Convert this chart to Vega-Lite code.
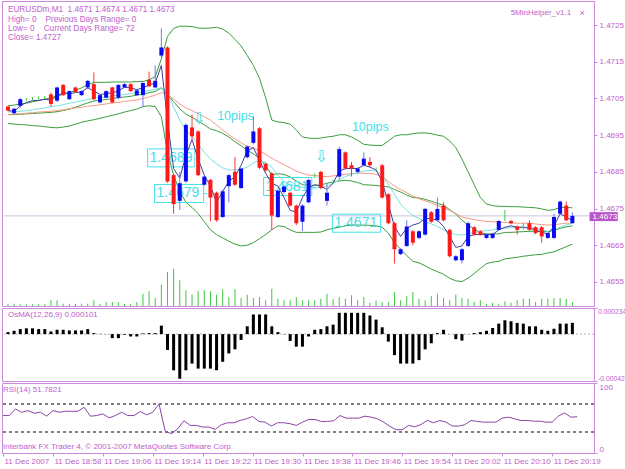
{
"$schema":"https://vega.github.io/schema/vega-lite/v6.json",
"background":"white",
"padding":{"left":0,"top":0,"right":0,"bottom":0},
"bounds":"flush",
"spacing":2,
"config":{
 "view":{"stroke":"#CC88DD","strokeWidth":1},
 "font":"Liberation Sans",
 "axis":{"labelFont":"Liberation Sans","labelFontSize":8,"labelColor":"#C060CC","tickColor":"#CC88DD","tickSize":3,"domain":false,"grid":false,"labelPadding":2,"labelOverlap":false}
},
"datasets":{
"bars":[
{"i":0,"o":1.47028,"h":1.4703,"l":1.47015,"c":1.47017,"ub":1.4703,"lb":1.46982,"mb":1.47006,"mr":1.47006,"mc":1.47013,"mn":1.47017,"v":7,"os":0.000018,"r":53.5},
{"i":1,"o":1.4701,"h":1.47024,"l":1.47006,"c":1.47022,"ub":1.47032,"lb":1.4698,"mb":1.47006,"mr":1.47008,"mc":1.47014,"mn":1.47015,"v":7,"os":0.00003,"r":53.5},
{"i":2,"o":1.4703,"h":1.47052,"l":1.47024,"c":1.47048,"ub":1.47035,"lb":1.46979,"mb":1.47007,"mr":1.47008,"mc":1.47015,"mn":1.4703,"v":5,"os":0.000045,"r":62.9},
{"i":3,"o":1.47048,"h":1.47052,"l":1.47044,"c":1.47048,"ub":1.47037,"lb":1.46978,"mb":1.47008,"mr":1.4701,"mc":1.47017,"mn":1.47039,"v":5,"os":0.000052,"r":58.2},
{"i":4,"o":1.4705,"h":1.47054,"l":1.47046,"c":1.4705,"ub":1.47041,"lb":1.46976,"mb":1.47009,"mr":1.47011,"mc":1.47019,"mn":1.47044,"v":5,"os":0.000052,"r":60.6},
{"i":5,"o":1.47052,"h":1.47056,"l":1.47048,"c":1.47052,"ub":1.47044,"lb":1.46975,"mb":1.4701,"mr":1.47013,"mc":1.47022,"mn":1.47045,"v":5,"os":0.000045,"r":56.8},
{"i":6,"o":1.47053,"h":1.47057,"l":1.47048,"c":1.47053,"ub":1.47048,"lb":1.46973,"mb":1.47011,"mr":1.47014,"mc":1.47024,"mn":1.47048,"v":5,"os":0.000045,"r":58.2},
{"i":7,"o":1.47061,"h":1.47066,"l":1.47028,"c":1.47035,"ub":1.47052,"lb":1.46971,"mb":1.47012,"mr":1.47015,"mc":1.47028,"mn":1.47045,"v":17,"os":0.000024,"r":52.6},
{"i":8,"o":1.47044,"h":1.47082,"l":1.4704,"c":1.4708,"ub":1.47057,"lb":1.4697,"mb":1.47014,"mr":1.47017,"mc":1.4703,"mn":1.47057,"v":17,"os":0.000039,"r":60.6},
{"i":9,"o":1.47087,"h":1.47089,"l":1.47057,"c":1.47059,"ub":1.47061,"lb":1.46972,"mb":1.47017,"mr":1.47019,"mc":1.47033,"mn":1.47066,"v":7,"os":0.000039,"r":58.2},
{"i":10,"o":1.47048,"h":1.47072,"l":1.47046,"c":1.4707,"ub":1.47066,"lb":1.46975,"mb":1.47021,"mr":1.47022,"mc":1.47037,"mn":1.47063,"v":7,"os":0.000033,"r":59.6},
{"i":11,"o":1.4708,"h":1.47082,"l":1.47065,"c":1.47067,"ub":1.47072,"lb":1.4698,"mb":1.47026,"mr":1.47024,"mc":1.4704,"mn":1.47066,"v":7,"os":0.000033,"r":59.6},
{"i":12,"o":1.47059,"h":1.47072,"l":1.47057,"c":1.4707,"ub":1.47079,"lb":1.46985,"mb":1.47032,"mr":1.47026,"mc":1.47044,"mn":1.47068,"v":7,"os":0.000033,"r":59.6},
{"i":13,"o":1.4708,"h":1.47101,"l":1.47076,"c":1.47098,"ub":1.47087,"lb":1.46989,"mb":1.47038,"mr":1.47029,"mc":1.47047,"mn":1.47079,"v":7,"os":0.000045,"r":65.3},
{"i":14,"o":1.47089,"h":1.47121,"l":1.47046,"c":1.47048,"ub":1.47094,"lb":1.46992,"mb":1.47043,"mr":1.4703,"mc":1.47051,"mn":1.4707,"v":17,"os":0.000009,"r":52.6},
{"i":15,"o":1.47039,"h":1.47061,"l":1.47037,"c":1.47059,"ub":1.47094,"lb":1.46996,"mb":1.47045,"mr":1.47033,"mc":1.47052,"mn":1.47061,"v":7,"os":0.000002,"r":53.5},
{"i":16,"o":1.47052,"h":1.47072,"l":1.4705,"c":1.4707,"ub":1.47094,"lb":1.47,"mb":1.47047,"mr":1.47035,"mc":1.47054,"mn":1.47063,"v":12,"os":0.000001,"r":55.9},
{"i":17,"o":1.4708,"h":1.47082,"l":1.47037,"c":1.47039,"ub":1.47095,"lb":1.47004,"mb":1.4705,"mr":1.47038,"mc":1.47057,"mn":1.47066,"v":12,"os":-0.000036,"r":50.2},
{"i":18,"o":1.47052,"h":1.47089,"l":1.47048,"c":1.47087,"ub":1.47095,"lb":1.47008,"mb":1.47052,"mr":1.47039,"mc":1.47059,"mn":1.4707,"v":12,"os":-0.000036,"r":53.5},
{"i":19,"o":1.4708,"h":1.47092,"l":1.47078,"c":1.47089,"ub":1.47095,"lb":1.47013,"mb":1.47054,"mr":1.47042,"mc":1.47061,"mn":1.47081,"v":7,"os":-0.000006,"r":58.2},
{"i":20,"o":1.47089,"h":1.47092,"l":1.47068,"c":1.4707,"ub":1.47095,"lb":1.47017,"mb":1.47056,"mr":1.47044,"mc":1.47063,"mn":1.47079,"v":7,"os":-0.000021,"r":53.5},
{"i":21,"o":1.47059,"h":1.47074,"l":1.47057,"c":1.47072,"ub":1.47096,"lb":1.47021,"mb":1.47059,"mr":1.47046,"mc":1.47066,"mn":1.47074,"v":12,"os":-0.000021,"r":53.5},
{"i":22,"o":1.47059,"h":1.47094,"l":1.47028,"c":1.47092,"ub":1.47096,"lb":1.47028,"mb":1.47062,"mr":1.4705,"mc":1.47068,"mn":1.47079,"v":37,"os":0.000006,"r":59.2},
{"i":23,"o":1.47101,"h":1.47123,"l":1.47081,"c":1.47083,"ub":1.47101,"lb":1.4703,"mb":1.47066,"mr":1.47054,"mc":1.47072,"mn":1.47087,"v":44,"os":0.000009,"r":54.5},
{"i":24,"o":1.4708,"h":1.4714,"l":1.47078,"c":1.47098,"ub":1.47109,"lb":1.47028,"mb":1.47069,"mr":1.47059,"mc":1.47075,"mn":1.47092,"v":24,"os":0.000009,"r":58.2},
{"i":25,"o":1.47167,"h":1.47241,"l":1.4716,"c":1.47189,"ub":1.47158,"lb":1.47,"mb":1.47079,"mr":1.47066,"mc":1.47079,"mn":1.4714,"v":64,"os":0.000076,"r":70},
{"i":26,"o":1.47189,"h":1.47192,"l":1.4682,"c":1.46824,"ub":1.47219,"lb":1.46903,"mb":1.47061,"mr":1.47061,"mc":1.47066,"mn":1.46991,"v":102,"os":-0.000142,"r":30.9},
{"i":27,"o":1.46841,"h":1.46845,"l":1.46736,"c":1.46762,"ub":1.47241,"lb":1.46841,"mb":1.47041,"mr":1.47048,"mc":1.47026,"mn":1.46859,"v":112,"os":-0.000324,"r":27.6},
{"i":28,"o":1.46771,"h":1.4685,"l":1.46746,"c":1.46819,"ub":1.47247,"lb":1.46797,"mb":1.47022,"mr":1.47035,"mc":1.46991,"mn":1.46833,"v":77,"os":-0.0004,"r":34.7},
{"i":29,"o":1.46824,"h":1.46982,"l":1.4682,"c":1.46978,"ub":1.47247,"lb":1.46767,"mb":1.47007,"mr":1.47024,"mc":1.46964,"mn":1.46894,"v":47,"os":-0.000324,"r":46},
{"i":30,"o":1.46971,"h":1.47006,"l":1.46938,"c":1.46947,"ub":1.47246,"lb":1.46753,"mb":1.46999,"mr":1.47017,"mc":1.46947,"mn":1.46938,"v":34,"os":-0.000264,"r":39.4},
{"i":31,"o":1.4696,"h":1.46963,"l":1.46838,"c":1.46841,"ub":1.47242,"lb":1.46736,"mb":1.46989,"mr":1.47008,"mc":1.46925,"mn":1.46885,"v":44,"os":-0.000309,"r":39.4},
{"i":32,"o":1.46815,"h":1.4684,"l":1.46812,"c":1.46837,"ub":1.47241,"lb":1.46714,"mb":1.46978,"mr":1.47,"mc":1.46903,"mn":1.46841,"v":47,"os":-0.000309,"r":37.1},
{"i":33,"o":1.46828,"h":1.46831,"l":1.46715,"c":1.4678,"ub":1.47242,"lb":1.46692,"mb":1.46967,"mr":1.46991,"mc":1.46885,"mn":1.46811,"v":44,"os":-0.000309,"r":37.1},
{"i":34,"o":1.46793,"h":1.46796,"l":1.46714,"c":1.46718,"ub":1.47244,"lb":1.46679,"mb":1.46962,"mr":1.46978,"mc":1.46872,"mn":1.46767,"v":34,"os":-0.000324,"r":33.8},
{"i":35,"o":1.46727,"h":1.468,"l":1.46724,"c":1.46797,"ub":1.47239,"lb":1.4667,"mb":1.46955,"mr":1.46964,"mc":1.46861,"mn":1.46797,"v":50,"os":-0.000248,"r":40.4},
{"i":36,"o":1.46811,"h":1.46845,"l":1.46767,"c":1.46841,"ub":1.47228,"lb":1.46661,"mb":1.46945,"mr":1.46951,"mc":1.46855,"mn":1.46824,"v":27,"os":-0.000173,"r":43.2},
{"i":37,"o":1.4685,"h":1.4689,"l":1.46812,"c":1.46815,"ub":1.47211,"lb":1.46653,"mb":1.46932,"mr":1.4694,"mc":1.46855,"mn":1.46837,"v":50,"os":-0.000136,"r":43.2},
{"i":38,"o":1.46806,"h":1.46862,"l":1.46803,"c":1.46859,"ub":1.47193,"lb":1.46648,"mb":1.46921,"mr":1.46929,"mc":1.46857,"mn":1.46868,"v":24,"os":-0.000052,"r":46.5},
{"i":39,"o":1.4689,"h":1.46922,"l":1.46886,"c":1.46919,"ub":1.47167,"lb":1.4665,"mb":1.46909,"mr":1.4692,"mc":1.46863,"mn":1.46907,"v":34,"os":0.00007,"r":48.8},
{"i":40,"o":1.46929,"h":1.47001,"l":1.46925,"c":1.4696,"ub":1.4714,"lb":1.46657,"mb":1.46899,"mr":1.46916,"mc":1.46875,"mn":1.46916,"v":24,"os":0.000176,"r":52.1},
{"i":41,"o":1.46969,"h":1.46972,"l":1.46858,"c":1.46861,"ub":1.47105,"lb":1.46668,"mb":1.46887,"mr":1.46907,"mc":1.46881,"mn":1.46881,"v":27,"os":0.000176,"r":45.1},
{"i":42,"o":1.46872,"h":1.46875,"l":1.46851,"c":1.46854,"ub":1.47052,"lb":1.46679,"mb":1.46866,"mr":1.46898,"mc":1.46875,"mn":1.46846,"v":17,"os":0.000176,"r":44.1},
{"i":43,"o":1.46846,"h":1.46849,"l":1.46692,"c":1.46731,"ub":1.46991,"lb":1.46692,"mb":1.46842,"mr":1.46887,"mc":1.46863,"mn":1.46819,"v":52,"os":0.00007,"r":38.5},
{"i":44,"o":1.46727,"h":1.46802,"l":1.46724,"c":1.46799,"ub":1.46986,"lb":1.46703,"mb":1.46845,"mr":1.46878,"mc":1.46841,"mn":1.46811,"v":22,"os":0.000018,"r":43.2},
{"i":45,"o":1.46795,"h":1.46815,"l":1.4679,"c":1.4681,"ub":1.46984,"lb":1.46701,"mb":1.46843,"mr":1.46869,"mc":1.46824,"mn":1.4678,"v":17,"os":-0.000002,"r":43.2},
{"i":46,"o":1.46793,"h":1.46796,"l":1.46755,"c":1.46758,"ub":1.4698,"lb":1.46692,"mb":1.46836,"mr":1.46861,"mc":1.46815,"mn":1.46745,"v":17,"os":-0.000061,"r":41.8},
{"i":47,"o":1.46758,"h":1.46761,"l":1.46705,"c":1.4671,"ub":1.46964,"lb":1.46685,"mb":1.46825,"mr":1.46852,"mc":1.46811,"mn":1.4674,"v":27,"os":-0.000112,"r":39.4},
{"i":48,"o":1.46714,"h":1.46762,"l":1.46688,"c":1.46758,"ub":1.46945,"lb":1.46685,"mb":1.46815,"mr":1.46846,"mc":1.46808,"mn":1.4678,"v":17,"os":-0.000112,"r":44.1},
{"i":49,"o":1.46767,"h":1.46831,"l":1.46764,"c":1.46828,"ub":1.46942,"lb":1.46685,"mb":1.46814,"mr":1.46841,"mc":1.46806,"mn":1.46806,"v":17,"os":-0.000021,"r":47.9},
{"i":50,"o":1.4684,"h":1.46846,"l":1.46833,"c":1.4684,"ub":1.46941,"lb":1.46685,"mb":1.46813,"mr":1.4684,"mc":1.46806,"mn":1.46815,"v":17,"os":0.000039,"r":47.9},
{"i":51,"o":1.4685,"h":1.46853,"l":1.46803,"c":1.46806,"ub":1.46942,"lb":1.46686,"mb":1.46814,"mr":1.46838,"mc":1.46808,"mn":1.46811,"v":22,"os":0.000045,"r":45.1},
{"i":52,"o":1.46771,"h":1.46819,"l":1.46758,"c":1.46793,"ub":1.46945,"lb":1.46692,"mb":1.46819,"mr":1.46837,"mc":1.46811,"mn":1.46802,"v":37,"os":0.00007,"r":45.1},
{"i":53,"o":1.46824,"h":1.46828,"l":1.46819,"c":1.46824,"ub":1.46947,"lb":1.46696,"mb":1.46822,"mr":1.46839,"mc":1.46819,"mn":1.46819,"v":20,"os":0.000085,"r":46},
{"i":54,"o":1.46837,"h":1.46919,"l":1.46828,"c":1.46912,"ub":1.46951,"lb":1.46699,"mb":1.46825,"mr":1.46841,"mc":1.46828,"mn":1.46852,"v":27,"os":0.000191,"r":53.5},
{"i":55,"o":1.46903,"h":1.46906,"l":1.46856,"c":1.46859,"ub":1.46951,"lb":1.46703,"mb":1.46827,"mr":1.46843,"mc":1.46837,"mn":1.46859,"v":22,"os":0.000191,"r":49.8},
{"i":56,"o":1.46868,"h":1.46877,"l":1.46837,"c":1.46859,"ub":1.46945,"lb":1.46705,"mb":1.46825,"mr":1.46845,"mc":1.46843,"mn":1.46859,"v":32,"os":0.000191,"r":49.8},
{"i":57,"o":1.4685,"h":1.46862,"l":1.46846,"c":1.46859,"ub":1.46936,"lb":1.46705,"mb":1.46821,"mr":1.46846,"mc":1.46848,"mn":1.46859,"v":17,"os":0.000191,"r":49.8},
{"i":58,"o":1.46868,"h":1.46903,"l":1.46865,"c":1.46886,"ub":1.46925,"lb":1.46705,"mb":1.46815,"mr":1.46846,"mc":1.46852,"mn":1.46868,"v":27,"os":0.000191,"r":52.6},
{"i":59,"o":1.46877,"h":1.4689,"l":1.46863,"c":1.46868,"ub":1.46923,"lb":1.46704,"mb":1.46814,"mr":1.46846,"mc":1.46854,"mn":1.46863,"v":10,"os":0.000167,"r":51.2},
{"i":60,"o":1.46858,"h":1.46862,"l":1.46854,"c":1.46858,"ub":1.46922,"lb":1.46703,"mb":1.46813,"mr":1.46843,"mc":1.46852,"mn":1.46855,"v":17,"os":0.00013,"r":48.8},
{"i":61,"o":1.46868,"h":1.46871,"l":1.46777,"c":1.4678,"ub":1.46922,"lb":1.46699,"mb":1.46811,"mr":1.46837,"mc":1.46841,"mn":1.46824,"v":12,"os":0.000061,"r":44.1},
{"i":62,"o":1.46789,"h":1.46792,"l":1.46707,"c":1.4671,"ub":1.46934,"lb":1.46683,"mb":1.46809,"mr":1.46824,"mc":1.46815,"mn":1.46762,"v":12,"os":-0.000067,"r":38},
{"i":63,"o":1.4671,"h":1.46713,"l":1.466,"c":1.46639,"ub":1.46947,"lb":1.46657,"mb":1.46802,"mr":1.46811,"mc":1.46789,"mn":1.46701,"v":42,"os":-0.000188,"r":33.3},
{"i":64,"o":1.46626,"h":1.46642,"l":1.46623,"c":1.46639,"ub":1.46951,"lb":1.46639,"mb":1.46795,"mr":1.46802,"mc":1.46762,"mn":1.46674,"v":17,"os":-0.000264,"r":33.3},
{"i":65,"o":1.46648,"h":1.46718,"l":1.46645,"c":1.46701,"ub":1.46951,"lb":1.46622,"mb":1.46787,"mr":1.46793,"mc":1.46745,"mn":1.46696,"v":30,"os":-0.000264,"r":39.4},
{"i":66,"o":1.46688,"h":1.46691,"l":1.4665,"c":1.46657,"ub":1.46954,"lb":1.46606,"mb":1.4678,"mr":1.46784,"mc":1.46731,"mn":1.46705,"v":42,"os":-0.000264,"r":37.5},
{"i":67,"o":1.4667,"h":1.46691,"l":1.46666,"c":1.46688,"ub":1.46956,"lb":1.46602,"mb":1.46779,"mr":1.46777,"mc":1.46723,"mn":1.4671,"v":22,"os":-0.000233,"r":40.8},
{"i":68,"o":1.46679,"h":1.46752,"l":1.46676,"c":1.46749,"ub":1.46956,"lb":1.46594,"mb":1.46775,"mr":1.46771,"mc":1.46714,"mn":1.46723,"v":17,"os":-0.000136,"r":46.5},
{"i":69,"o":1.4674,"h":1.46743,"l":1.46711,"c":1.46714,"ub":1.46954,"lb":1.46585,"mb":1.4677,"mr":1.46765,"mc":1.46708,"mn":1.46723,"v":30,"os":-0.000082,"r":43.2},
{"i":70,"o":1.46718,"h":1.4678,"l":1.46715,"c":1.46749,"ub":1.4695,"lb":1.46578,"mb":1.46764,"mr":1.46758,"mc":1.46701,"mn":1.46718,"v":37,"os":0.000009,"r":46.5},
{"i":71,"o":1.46758,"h":1.46767,"l":1.46715,"c":1.46718,"ub":1.46947,"lb":1.46571,"mb":1.46759,"mr":1.46752,"mc":1.46692,"mn":1.46701,"v":24,"os":0.000039,"r":44.1},
{"i":72,"o":1.46692,"h":1.46695,"l":1.46617,"c":1.4662,"ub":1.46934,"lb":1.4656,"mb":1.46747,"mr":1.46745,"mc":1.46685,"mn":1.46674,"v":17,"os":0.000001,"r":38.5},
{"i":73,"o":1.46609,"h":1.46623,"l":1.46606,"c":1.4662,"ub":1.46916,"lb":1.46553,"mb":1.46735,"mr":1.46736,"mc":1.46679,"mn":1.46644,"v":34,"os":-0.000045,"r":38.5},
{"i":74,"o":1.46609,"h":1.46642,"l":1.466,"c":1.46639,"ub":1.46885,"lb":1.46551,"mb":1.46718,"mr":1.46727,"mc":1.46678,"mn":1.46648,"v":24,"os":-0.000058,"r":40.4},
{"i":75,"o":1.46648,"h":1.46714,"l":1.46645,"c":1.4671,"ub":1.4685,"lb":1.4656,"mb":1.46705,"mr":1.46723,"mc":1.46681,"mn":1.46674,"v":22,"os":-0.000001,"r":46.5},
{"i":76,"o":1.46699,"h":1.46702,"l":1.46676,"c":1.46679,"ub":1.46815,"lb":1.46573,"mb":1.46694,"mr":1.4672,"mc":1.46685,"mn":1.46679,"v":12,"os":0.000009,"r":45.1},
{"i":77,"o":1.46688,"h":1.46691,"l":1.46676,"c":1.46679,"ub":1.4678,"lb":1.46587,"mb":1.46684,"mr":1.46717,"mc":1.46688,"mn":1.46679,"v":17,"os":0.000018,"r":44.1},
{"i":78,"o":1.4667,"h":1.46682,"l":1.46667,"c":1.46679,"ub":1.46762,"lb":1.466,"mb":1.46681,"mr":1.46715,"mc":1.4669,"mn":1.46679,"v":7,"os":0.00003,"r":44.1},
{"i":79,"o":1.4667,"h":1.46684,"l":1.46667,"c":1.46681,"ub":1.46758,"lb":1.46604,"mb":1.46681,"mr":1.46714,"mc":1.46692,"mn":1.46679,"v":10,"os":0.000055,"r":44.1},
{"i":80,"o":1.46692,"h":1.46719,"l":1.46689,"c":1.46716,"ub":1.46756,"lb":1.46606,"mb":1.46681,"mr":1.46713,"mc":1.46695,"mn":1.46692,"v":7,"os":0.000094,"r":49.8},
{"i":81,"o":1.46718,"h":1.46746,"l":1.46716,"c":1.46718,"ub":1.46756,"lb":1.46613,"mb":1.46685,"mr":1.46712,"mc":1.46696,"mn":1.46699,"v":14,"os":0.000124,"r":51.2},
{"i":82,"o":1.46716,"h":1.46719,"l":1.46707,"c":1.4671,"ub":1.46755,"lb":1.46615,"mb":1.46685,"mr":1.46711,"mc":1.46698,"mn":1.46703,"v":10,"os":0.000115,"r":48.8},
{"i":83,"o":1.46701,"h":1.46704,"l":1.46679,"c":1.46692,"ub":1.46755,"lb":1.46617,"mb":1.46686,"mr":1.4671,"mc":1.46699,"mn":1.46699,"v":17,"os":0.0001,"r":46.5},
{"i":84,"o":1.46701,"h":1.4671,"l":1.46692,"c":1.46701,"ub":1.46754,"lb":1.4662,"mb":1.46687,"mr":1.4671,"mc":1.46699,"mn":1.46699,"v":22,"os":0.000094,"r":46.5},
{"i":85,"o":1.4671,"h":1.46718,"l":1.46688,"c":1.46692,"ub":1.46753,"lb":1.46622,"mb":1.46688,"mr":1.4671,"mc":1.46698,"mn":1.46696,"v":22,"os":0.00007,"r":45.5},
{"i":86,"o":1.46699,"h":1.46702,"l":1.4668,"c":1.46683,"ub":1.46752,"lb":1.46624,"mb":1.46688,"mr":1.46708,"mc":1.46696,"mn":1.46692,"v":12,"os":0.00007,"r":45.5},
{"i":87,"o":1.46699,"h":1.46702,"l":1.46657,"c":1.46674,"ub":1.46749,"lb":1.46625,"mb":1.46687,"mr":1.46706,"mc":1.46692,"mn":1.46685,"v":22,"os":0.000039,"r":44.1},
{"i":88,"o":1.4667,"h":1.46686,"l":1.46667,"c":1.46683,"ub":1.46745,"lb":1.46629,"mb":1.46687,"mr":1.46705,"mc":1.46688,"mn":1.46681,"v":22,"os":0.00003,"r":44.1},
{"i":89,"o":1.4667,"h":1.46736,"l":1.46667,"c":1.46727,"ub":1.46747,"lb":1.46632,"mb":1.4669,"mr":1.46706,"mc":1.46692,"mn":1.46701,"v":24,"os":0.000048,"r":52.6},
{"i":90,"o":1.46736,"h":1.46772,"l":1.46733,"c":1.46769,"ub":1.46753,"lb":1.46639,"mb":1.46696,"mr":1.46708,"mc":1.46699,"mn":1.46736,"v":24,"os":0.000094,"r":57.3},
{"i":91,"o":1.46758,"h":1.46769,"l":1.46716,"c":1.46718,"ub":1.46753,"lb":1.46646,"mb":1.467,"mr":1.4671,"mc":1.46705,"mn":1.46727,"v":22,"os":0.000094,"r":51.2},
{"i":92,"o":1.4671,"h":1.4674,"l":1.4671,"c":1.4673,"ub":1.46752,"lb":1.46653,"mb":1.46703,"mr":1.4671,"mc":1.4671,"mn":1.46717,"v":12,"os":0.000101,"r":51.78}
],
"labels":[
{"t":"1.4689","s":"-","a":22.76,"b":30.45,"p":1.46888},
{"t":"1.4679","s":"-","a":23.88,"b":31.89,"p":1.46791},
{"t":"1.4681","s":"-","a":41.67,"b":49.52,"p":1.4681},
{"t":"1.4671","s":"","a":52.88,"b":60.74,"p":1.4671}
],
"notes":[
{"k":"pips","t":"10pips","i":37.1,"p":1.47001},
{"k":"pips","t":"10pips","i":59.06,"p":1.46972},
{"k":"arrow","t":"⇩","i":31.1,"p":1.46995},
{"k":"arrow","t":"⇩","i":51.04,"p":1.46891}
]
},
"vconcat":[
{
 "width":592,"height":305,
 "layer":[
  {"data":{"name":"bars"},"mark":{"type":"bar","orient":"vertical","size":1,"color":"#3FC63F"},
   "encoding":{"x":{"field":"i","type":"quantitative","scale":{"domain":[-0.16,94.71],"nice":false,"zero":false},"axis":null},
    "y":{"field":"v","type":"quantitative","scale":{"domain":[0,915],"nice":false,"zero":true},"axis":null}}},
  {"layer":[
   {"data":{"values":[{}]},"mark":{"type":"rule","color":"#C6C6DC","strokeWidth":1},
    "encoding":{"y":{"datum":1.4673,"type":"quantitative","scale":{"domain":[1.46498,1.47302],"nice":false,"zero":false},
     "axis":{"orient":"right","title":null,"values":[1.4655,1.4665,1.4675,1.4685,1.4695,1.4705,1.4715,1.4725],"format":".4f","labelFlush":false}}}},
   {"data":{"name":"bars"},"mark":{"type":"line","color":"#3A9E3A","strokeWidth":1},
    "encoding":{"x":{"field":"i","type":"quantitative","scale":{"domain":[-0.16,94.71],"nice":false,"zero":false},"axis":null},
     "y":{"field":"ub","type":"quantitative","scale":{"domain":[1.46498,1.47302],"nice":false,"zero":false}}}},
   {"data":{"name":"bars"},"mark":{"type":"line","color":"#3A9E3A","strokeWidth":1},
    "encoding":{"x":{"field":"i","type":"quantitative","scale":{"domain":[-0.16,94.71],"nice":false,"zero":false},"axis":null},
     "y":{"field":"lb","type":"quantitative","scale":{"domain":[1.46498,1.47302],"nice":false,"zero":false}}}},
   {"data":{"name":"bars"},"mark":{"type":"line","color":"#3A9E3A","strokeWidth":1},
    "encoding":{"x":{"field":"i","type":"quantitative","scale":{"domain":[-0.16,94.71],"nice":false,"zero":false},"axis":null},
     "y":{"field":"mb","type":"quantitative","scale":{"domain":[1.46498,1.47302],"nice":false,"zero":false}}}},
   {"data":{"name":"bars"},"mark":{"type":"line","color":"#F59A84","strokeWidth":1},
    "encoding":{"x":{"field":"i","type":"quantitative","scale":{"domain":[-0.16,94.71],"nice":false,"zero":false},"axis":null},
     "y":{"field":"mr","type":"quantitative","scale":{"domain":[1.46498,1.47302],"nice":false,"zero":false}}}},
   {"data":{"name":"bars"},"mark":{"type":"line","color":"#74E2E2","strokeWidth":1},
    "encoding":{"x":{"field":"i","type":"quantitative","scale":{"domain":[-0.16,94.71],"nice":false,"zero":false},"axis":null},
     "y":{"field":"mc","type":"quantitative","scale":{"domain":[1.46498,1.47302],"nice":false,"zero":false}}}},
   {"data":{"name":"labels"},"mark":{"type":"bar","orient":"horizontal","size":18,"filled":false,"color":"#44E0EA","strokeWidth":1},
    "encoding":{"x":{"field":"a","type":"quantitative","scale":{"domain":[-0.16,94.71],"nice":false,"zero":false},"axis":null},"x2":{"field":"b"},
     "y":{"field":"p","type":"quantitative","scale":{"domain":[1.46498,1.47302],"nice":false,"zero":false}}}},
   {"data":{"name":"labels"},"mark":{"type":"text","align":"left","baseline":"middle","fontSize":14,"dx":2,"color":"#44E0EA"},
    "encoding":{"x":{"field":"a","type":"quantitative","scale":{"domain":[-0.16,94.71],"nice":false,"zero":false},"axis":null},
     "y":{"field":"p","type":"quantitative","scale":{"domain":[1.46498,1.47302],"nice":false,"zero":false}},"text":{"field":"t"}}},
   {"data":{"name":"labels"},"mark":{"type":"text","align":"left","baseline":"middle","fontSize":12,"color":"#44E0EA"},
    "encoding":{"x":{"field":"b","type":"quantitative","scale":{"domain":[-0.16,94.71],"nice":false,"zero":false},"axis":null},
     "y":{"field":"p","type":"quantitative","scale":{"domain":[1.46498,1.47302],"nice":false,"zero":false}},"text":{"field":"s"}}},
   {"data":{"name":"notes"},"transform":[{"filter":"datum.k=='pips'"}],"mark":{"type":"text","align":"center","baseline":"middle","fontSize":12.5,"color":"#44E0EA"},
    "encoding":{"x":{"field":"i","type":"quantitative","scale":{"domain":[-0.16,94.71],"nice":false,"zero":false},"axis":null},
     "y":{"field":"p","type":"quantitative","scale":{"domain":[1.46498,1.47302],"nice":false,"zero":false}},"text":{"field":"t"}}},
   {"data":{"name":"notes"},"transform":[{"filter":"datum.k=='arrow'"}],"mark":{"type":"text","align":"center","baseline":"middle","fontSize":16,"font":"DejaVu Sans","color":"#44E0EA"},
    "encoding":{"x":{"field":"i","type":"quantitative","scale":{"domain":[-0.16,94.71],"nice":false,"zero":false},"axis":null},
     "y":{"field":"p","type":"quantitative","scale":{"domain":[1.46498,1.47302],"nice":false,"zero":false}},"text":{"field":"t"}}},
   {"data":{"name":"bars"},"mark":{"type":"line","color":"#40409A","strokeWidth":1},
    "encoding":{"x":{"field":"i","type":"quantitative","scale":{"domain":[-0.16,94.71],"nice":false,"zero":false},"axis":null},
     "y":{"field":"mn","type":"quantitative","scale":{"domain":[1.46498,1.47302],"nice":false,"zero":false}}}},
   {"data":{"name":"bars"},"mark":{"type":"rule","strokeWidth":1},
    "encoding":{"x":{"field":"i","type":"quantitative","scale":{"domain":[-0.16,94.71],"nice":false,"zero":false},"axis":null},
     "y":{"field":"l","type":"quantitative","scale":{"domain":[1.46498,1.47302],"nice":false,"zero":false}},"y2":{"field":"h"},
     "color":{"condition":[{"test":"datum.c>datum.o","value":"#7474F2"},{"test":"datum.c<datum.o","value":"#F23A3A"}],"value":"#3CCB3C"}}},
   {"data":{"name":"bars"},"mark":{"type":"bar","orient":"vertical","size":4},
    "encoding":{"x":{"field":"i","type":"quantitative","scale":{"domain":[-0.16,94.71],"nice":false,"zero":false},"axis":null},
     "y":{"field":"o","type":"quantitative","scale":{"domain":[1.46498,1.47302],"nice":false,"zero":false}},"y2":{"field":"c"},
     "color":{"condition":[{"test":"datum.c>datum.o","value":"#0A0AF0"},{"test":"datum.c<datum.o","value":"#FF1A1A"}],"value":"#3CCB3C"}}},
   {"data":{"values":[{}]},"mark":{"type":"text","align":"left","baseline":"top","fontSize":8.2,"lineHeight":9.2,"color":"#C060CC"},
    "encoding":{"x":{"datum":0,"type":"quantitative","scale":{"domain":[-0.16,94.71],"nice":false,"zero":false},"axis":null},
     "y":{"datum":1.47301,"type":"quantitative","scale":{"domain":[1.46498,1.47302],"nice":false,"zero":false}},
     "text":{"value":["EURUSDm,M1\u00a0\u00a01.4671\u00a01.4674\u00a01.4671\u00a01.4673","High= 0\u00a0\u00a0\u00a0\u00a0Previous Days Range= 0","Low= 0\u00a0\u00a0\u00a0\u00a0Current Days Range= 72","Close= 1.4727"]}}},
   {"data":{"values":[{}]},"mark":{"type":"text","align":"right","baseline":"middle","fontSize":8,"color":"#C060CC"},
    "encoding":{"x":{"datum":91.8,"type":"quantitative","scale":{"domain":[-0.16,94.71],"nice":false,"zero":false},"axis":null},
     "y":{"datum":1.47283,"type":"quantitative","scale":{"domain":[1.46498,1.47302],"nice":false,"zero":false}},
     "text":{"value":"5MinHelper_v1.1"}}},
   {"data":{"values":[{}]},"mark":{"type":"text","align":"center","baseline":"middle","fontSize":9,"color":"#C060CC"},
    "encoding":{"x":{"datum":93.6,"type":"quantitative","scale":{"domain":[-0.16,94.71],"nice":false,"zero":false},"axis":null},
     "y":{"datum":1.47283,"type":"quantitative","scale":{"domain":[1.46498,1.47302],"nice":false,"zero":false}},
     "text":{"value":"×"}}},
   {"data":{"values":[{}]},"mark":{"type":"bar","orient":"horizontal","size":9,"color":"#BB55CC"},
    "encoding":{"x":{"datum":94.8,"type":"quantitative","scale":{"domain":[-0.16,94.71],"nice":false,"zero":false},"axis":null},"x2":{"datum":99.4},
     "y":{"datum":1.46728,"type":"quantitative","scale":{"domain":[1.46498,1.47302],"nice":false,"zero":false}}}},
   {"data":{"values":[{}]},"mark":{"type":"text","align":"left","baseline":"middle","fontSize":8,"color":"#FFFFFF"},
    "encoding":{"x":{"datum":95.3,"type":"quantitative","scale":{"domain":[-0.16,94.71],"nice":false,"zero":false},"axis":null},
     "y":{"datum":1.46728,"type":"quantitative","scale":{"domain":[1.46498,1.47302],"nice":false,"zero":false}},
     "text":{"value":"1.4673"}}}
  ]}
 ],
 "resolve":{"scale":{"y":"independent"}}
},
{
 "width":592,"height":73,
 "layer":[
  {"data":{"values":[{}]},"mark":{"type":"rule","color":"#B4B4B4","strokeDash":[2,2]},
   "encoding":{"y":{"datum":0,"type":"quantitative","scale":{"domain":[-0.00042,0.000234],"nice":false,"zero":false},
    "axis":{"orient":"right","title":null,"values":[-0.00042,0,0.000234],"labelFlush":true,"labelFontSize":6.8,"labelPadding":0.5,"labelExpr":"datum.value==0?'0.00':(datum.value>0?'0.000234':'-0.00042')"}}}},
  {"data":{"name":"bars"},"mark":{"type":"bar","orient":"vertical","size":3,"color":"#000000"},
   "encoding":{"x":{"field":"i","type":"quantitative","scale":{"domain":[-0.16,94.71],"nice":false,"zero":false},"axis":null},
    "y":{"field":"os","type":"quantitative","scale":{"domain":[-0.00042,0.000234],"nice":false,"zero":false}},"y2":{"datum":0}}},
  {"data":{"values":[{}]},"mark":{"type":"text","align":"left","baseline":"middle","fontSize":8,"color":"#C060CC"},
   "encoding":{"x":{"datum":0,"type":"quantitative","scale":{"domain":[-0.16,94.71],"nice":false,"zero":false},"axis":null},
    "y":{"datum":0.000171,"type":"quantitative","scale":{"domain":[-0.00042,0.000234],"nice":false,"zero":false}},
    "text":{"value":"OsMA(12,26,9) 0.000101"}}}
 ]
},
{
 "width":592,"height":70,
 "layer":[
  {"data":{"values":[{"lv":70},{"lv":30}]},"mark":{"type":"rule","color":"#000000","strokeDash":[3,3]},
   "encoding":{"y":{"field":"lv","type":"quantitative","scale":{"domain":[0,100],"nice":false,"zero":false},
    "axis":{"orient":"right","title":null,"values":[0,30,70,100],"labelFlush":true}}}},
  {"data":{"name":"bars"},"mark":{"type":"line","color":"#8A44AA","strokeWidth":1},
   "encoding":{"x":{"field":"i","type":"quantitative","scale":{"domain":[-0.16,94.71],"nice":false,"zero":false},
     "axis":{"orient":"bottom","title":null,"values":[0,8,16,24,32,40,48,56,64,72,80,88],"labelFlush":false,"labelAlign":"left","labelOffset":1,"labelPadding":1,
      "labelExpr":"['11 Dec 2007','11 Dec 18:58','11 Dec 19:06','11 Dec 19:14','11 Dec 19:22','11 Dec 19:30','11 Dec 19:38','11 Dec 19:46','11 Dec 19:54','11 Dec 20:02','11 Dec 20:10','11 Dec 20:19'][round(datum.value/8)]"}},
    "y":{"field":"r","type":"quantitative","scale":{"domain":[0,100],"nice":false,"zero":false}}}},
  {"data":{"values":[{}]},"mark":{"type":"text","align":"left","baseline":"middle","fontSize":8,"color":"#C060CC"},
   "encoding":{"x":{"datum":0,"type":"quantitative","scale":{"domain":[-0.16,94.71],"nice":false,"zero":false}},
    "y":{"datum":90,"type":"quantitative","scale":{"domain":[0,100],"nice":false,"zero":false}},
    "text":{"value":"RSI(14) 51.7821"}}},
  {"data":{"values":[{}]},"mark":{"type":"text","align":"left","baseline":"middle","fontSize":8,"color":"#C060CC"},
   "encoding":{"x":{"datum":0,"type":"quantitative","scale":{"domain":[-0.16,94.71],"nice":false,"zero":false}},
    "y":{"datum":8.1,"type":"quantitative","scale":{"domain":[0,100],"nice":false,"zero":false}},
    "text":{"value":"Interbank FX Trader 4, © 2001-2007 MetaQuotes Software Corp."}}}
 ]
}
]
}
